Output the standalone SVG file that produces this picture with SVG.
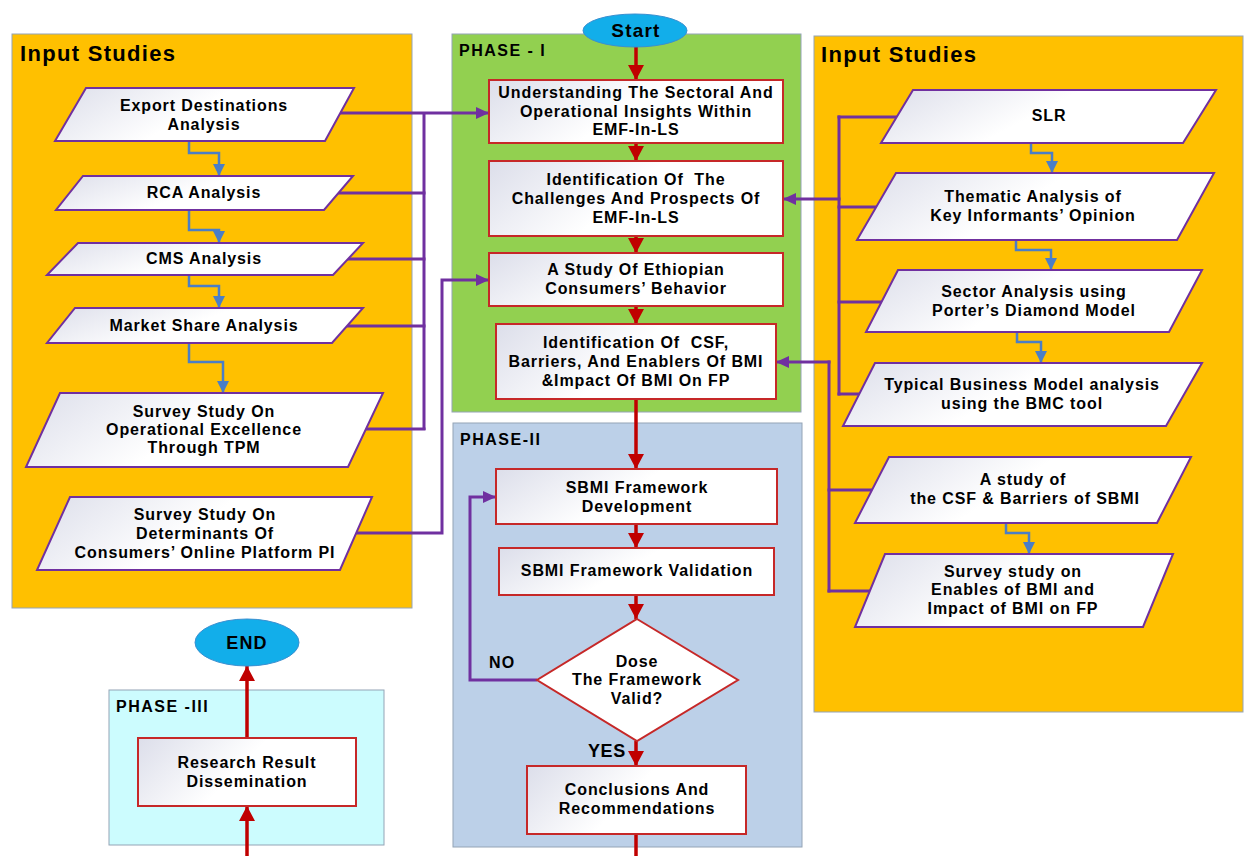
<svg xmlns="http://www.w3.org/2000/svg" width="1244" height="856" viewBox="0 0 1244 856">
  <defs>
    <linearGradient id="nodeFill" x1="0" y1="0" x2="1" y2="0.3">
      <stop offset="0" stop-color="#dcdeea"/>
      <stop offset="0.55" stop-color="#ffffff"/>
      <stop offset="1" stop-color="#ffffff"/>
    </linearGradient>
    <marker id="arrRed" markerUnits="userSpaceOnUse" markerWidth="16" markerHeight="16" viewBox="0 0 16 16" refX="15" refY="8" orient="auto">
      <path d="M0,0 L15,8 L0,16 Z" fill="#c00000"/>
    </marker>
    <marker id="arrPurple" markerUnits="userSpaceOnUse" markerWidth="14" markerHeight="14" viewBox="0 0 14 14" refX="13" refY="7" orient="auto">
      <path d="M0,1 L13,7 L0,13 Z" fill="#7030a0"/>
    </marker>
    <marker id="arrBlue" markerUnits="userSpaceOnUse" markerWidth="13" markerHeight="13" viewBox="0 0 13 13" refX="12" refY="6.5" orient="auto">
      <path d="M0,0.5 L12,6.5 L0,12.5 Z" fill="#4a7ec7"/>
    </marker>
    <style>
      .panel { stroke: #94a4b6; stroke-width: 1; }
      .orange { fill: #ffc000; }
      .green { fill: #92d050; }
      .blue { fill: #bcd0e8; }
      .cyan { fill: #ccfcfe; }
      .io { fill: url(#nodeFill); stroke: #7030a0; stroke-width: 2; }
      .proc { fill: url(#nodeFill); stroke: #c62828; stroke-width: 2; }
      .term { fill: #12aeea; stroke: #3a8fd0; stroke-width: 1; }
      .t { font-family: "Liberation Sans", Arial, sans-serif; font-weight: bold; font-size: 16px; letter-spacing: 0.9px; fill: #000; text-anchor: middle; white-space: pre; }
      .title { font-family: "Liberation Sans", Arial, sans-serif; font-weight: bold; font-size: 22px; letter-spacing: 1.3px; fill: #000; }
      .phase { font-family: "Liberation Sans", Arial, sans-serif; font-weight: bold; font-size: 16px; letter-spacing: 1.5px; fill: #000; }
      .lbl { font-family: "Liberation Sans", Arial, sans-serif; font-weight: bold; font-size: 18px; letter-spacing: 1.2px; fill: #000; }
      .red { fill: none; stroke: #c00000; stroke-width: 3.5; marker-end: url(#arrRed); }
      .redplain { fill: none; stroke: #c00000; stroke-width: 3.5; }
      .pur { fill: none; stroke: #7030a0; stroke-width: 3; }
      .purA { fill: none; stroke: #7030a0; stroke-width: 3; marker-end: url(#arrPurple); }
      .blu { fill: none; stroke: #4a7ec7; stroke-width: 2.5; marker-end: url(#arrBlue); }
    </style>
  </defs>

  <rect width="1244" height="856" fill="#ffffff"/>

  <!-- Panels -->
  <g id="panel-input-left">
    <rect class="panel orange" x="12" y="34" width="400" height="574"/>
    <text class="title" x="20" y="61">Input Studies</text>
  </g>
  <g id="panel-input-right">
    <rect class="panel orange" x="814" y="36" width="429" height="676"/>
    <text class="title" x="821" y="62">Input Studies</text>
  </g>
  <g id="panel-phase1">
    <rect class="panel green" x="452" y="34" width="349" height="378"/>
    <text class="phase" x="459" y="56">PHASE - I</text>
  </g>
  <g id="panel-phase2">
    <rect class="panel blue" x="453" y="423" width="349" height="424"/>
    <text class="phase" x="460" y="445">PHASE-II</text>
  </g>
  <g id="panel-phase3">
    <rect class="panel cyan" x="109" y="690" width="275" height="155"/>
    <text class="phase" x="116" y="712">PHASE -III</text>
  </g>

  <!-- Connectors -->
  <g id="connectors">
    <!-- main flow -->
    <path class="red" d="M636,47 V80"/>
    <path class="red" d="M636,143 V161"/>
    <path class="red" d="M636,236 V253"/>
    <path class="red" d="M636,306 V324"/>
    <path class="red" d="M636,399 V469"/>
    <path class="red" d="M636,524 V548"/>
    <path class="red" d="M636,595 V619"/>
    <path class="red" d="M636,741 V766"/>
    <path class="redplain" d="M636,834 V856"/>
    <path class="red" d="M247,856 V806"/>
    <path class="red" d="M247,738 V666"/>

    <!-- validation loop -->
    <path class="purA" d="M537,680 H470 V497 H496"/>

    <!-- left input studies to phase I -->
    <path class="purA" d="M330,113 H489"/>
    <path class="pur" d="M424,113 V430"/>
    <path class="pur" d="M320,193 H425.5"/>
    <path class="pur" d="M330,259 H425.5"/>
    <path class="pur" d="M330,326 H425.5"/>
    <path class="pur" d="M350,429 H425.5"/>
    <path class="purA" d="M335,533 H442 V280 H489"/>

    <!-- right input studies to phase I -->
    <path class="pur" d="M839,115.5 V395.5"/>
    <path class="pur" d="M837.5,117 H900"/>
    <path class="pur" d="M837.5,207 H880"/>
    <path class="pur" d="M837.5,302 H890"/>
    <path class="pur" d="M837.5,394 H870"/>
    <path class="purA" d="M840.5,199 H783"/>
    <path class="pur" d="M829,360.5 V592.5"/>
    <path class="purA" d="M830.5,362 H776"/>
    <path class="pur" d="M827.5,490 H880"/>
    <path class="pur" d="M827.5,591 H880"/>

    <!-- left sequence -->
    <path class="blu" d="M189,141 V153 H219 V176"/>
    <path class="blu" d="M189,210 V230 H219 V243"/>
    <path class="blu" d="M189,275 V286 H219 V308"/>
    <path class="blu" d="M189,343 V362 H223 V393"/>

    <!-- right sequence -->
    <path class="blu" d="M1031,143 V153 H1052 V173"/>
    <path class="blu" d="M1016,240 V250 H1051 V270"/>
    <path class="blu" d="M1017,332 V342 H1041 V363"/>
    <path class="blu" d="M1006,523 V533 H1029 V554"/>
  </g>

  <!-- Left input studies -->
  <g id="export-destinations">
    <polygon class="io" points="86,88 354,88 325,141 55,141"/>
    <text class="t" x="204" y="111">Export Destinations</text>
    <text class="t" x="204" y="130">Analysis</text>
  </g>
  <g id="rca-analysis">
    <polygon class="io" points="83,176 353,176 324,210 56,210"/>
    <text class="t" x="204" y="198">RCA Analysis</text>
  </g>
  <g id="cms-analysis">
    <polygon class="io" points="78,243 363,243 333,275 47,275"/>
    <text class="t" x="204" y="264">CMS Analysis</text>
  </g>
  <g id="market-share">
    <polygon class="io" points="75,308 363,308 332,343 47,343"/>
    <text class="t" x="204" y="331">Market Share Analysis</text>
  </g>
  <g id="survey-tpm">
    <polygon class="io" points="60,393 383,393 348,467 26,467"/>
    <text class="t" x="204" y="417">Survey Study On</text>
    <text class="t" x="204" y="435">Operational Excellence</text>
    <text class="t" x="204" y="453">Through TPM</text>
  </g>
  <g id="survey-pi">
    <polygon class="io" points="70,497 372,497 340,570 37,570"/>
    <text class="t" x="205" y="520">Survey Study On</text>
    <text class="t" x="205" y="539">Determinants Of</text>
    <text class="t" x="205" y="558">Consumers’ Online Platform PI</text>
  </g>

  <!-- Right input studies -->
  <g id="slr">
    <polygon class="io" points="913,90 1216,90 1183,143 881,143"/>
    <text class="t" x="1049" y="121">SLR</text>
  </g>
  <g id="thematic-analysis">
    <polygon class="io" points="896,173 1214,173 1177,240 857,240"/>
    <text class="t" x="1033" y="202">Thematic Analysis of</text>
    <text class="t" x="1033" y="221">Key Informants’ Opinion</text>
  </g>
  <g id="sector-analysis">
    <polygon class="io" points="898,270 1202,270 1169,332 866,332"/>
    <text class="t" x="1034" y="297">Sector Analysis using</text>
    <text class="t" x="1034" y="316">Porter’s Diamond Model</text>
  </g>
  <g id="business-model">
    <polygon class="io" points="875,363 1202,363 1166,426 843,426"/>
    <text class="t" x="1022" y="390">Typical Business Model analysis</text>
    <text class="t" x="1022" y="409">using the BMC tool</text>
  </g>
  <g id="csf-barriers">
    <polygon class="io" points="889,457 1191,457 1157,523 855,523"/>
    <text class="t" x="1023" y="485">A study of</text>
    <text class="t" x="1025" y="504">the CSF &amp; Barriers of SBMI</text>
  </g>
  <g id="survey-enablers">
    <polygon class="io" points="885,554 1173,554 1143,627 855,627"/>
    <text class="t" x="1013" y="577">Survey study on</text>
    <text class="t" x="1013" y="595">Enables of BMI and</text>
    <text class="t" x="1013" y="614">Impact of BMI on FP</text>
  </g>

  <!-- Phase I -->
  <g id="start">
    <ellipse class="term" cx="635" cy="30.5" rx="52" ry="16.5"/>
    <text class="lbl" x="636" y="37" text-anchor="middle" style="font-size:19px">Start</text>
  </g>
  <g id="sectoral-insights">
    <rect class="proc" x="489" y="80" width="294" height="63"/>
    <text class="t" x="636" y="98">Understanding The Sectoral And</text>
    <text class="t" x="636" y="117">Operational Insights Within</text>
    <text class="t" x="636" y="135">EMF-In-LS</text>
  </g>
  <g id="challenges-prospects">
    <rect class="proc" x="489" y="161" width="294" height="75"/>
    <text class="t" x="636" y="185" xml:space="preserve">Identification Of  The</text>
    <text class="t" x="636" y="204">Challenges And Prospects Of</text>
    <text class="t" x="636" y="223">EMF-In-LS</text>
  </g>
  <g id="consumer-behavior">
    <rect class="proc" x="489" y="253" width="294" height="53"/>
    <text class="t" x="636" y="275">A Study Of Ethiopian</text>
    <text class="t" x="636" y="294">Consumers’ Behavior</text>
  </g>
  <g id="csf-enablers-impact">
    <rect class="proc" x="496" y="324" width="280" height="75"/>
    <text class="t" x="636" y="348" xml:space="preserve">Identification Of  CSF,</text>
    <text class="t" x="636" y="367">Barriers, And Enablers Of BMI</text>
    <text class="t" x="636" y="386">&amp;Impact Of BMI On FP</text>
  </g>

  <!-- Phase II -->
  <g id="framework-development">
    <rect class="proc" x="496" y="469" width="281" height="55"/>
    <text class="t" x="637" y="493">SBMI Framework</text>
    <text class="t" x="637" y="512">Development</text>
  </g>
  <g id="framework-validation">
    <rect class="proc" x="499" y="548" width="275" height="47"/>
    <text class="t" x="637" y="576">SBMI Framework Validation</text>
  </g>
  <g id="validity-decision">
    <polygon class="proc" style="fill:#ffffff" points="637,619 738,680 637,741 537,680"/>
    <text class="t" x="637" y="667">Dose</text>
    <text class="t" x="637" y="685">The Framework</text>
    <text class="t" x="637" y="704">Valid?</text>
  </g>
  <g id="label-no">
    <text class="lbl" x="489" y="668" style="font-size:16px">NO</text>
  </g>
  <g id="label-yes">
    <text class="lbl" x="588" y="757" style="letter-spacing:0.6px">YES</text>
  </g>
  <g id="conclusions">
    <rect class="proc" x="527" y="766" width="219" height="68"/>
    <text class="t" x="637" y="795">Conclusions And</text>
    <text class="t" x="637" y="814">Recommendations</text>
  </g>

  <!-- Phase III -->
  <g id="dissemination">
    <rect class="proc" x="138" y="738" width="218" height="68"/>
    <text class="t" x="247" y="768">Research Result</text>
    <text class="t" x="247" y="787">Dissemination</text>
  </g>
  <g id="end">
    <ellipse class="term" cx="247" cy="642.5" rx="52" ry="23.5"/>
    <text class="lbl" x="247" y="649" text-anchor="middle">END</text>
  </g>
</svg>
